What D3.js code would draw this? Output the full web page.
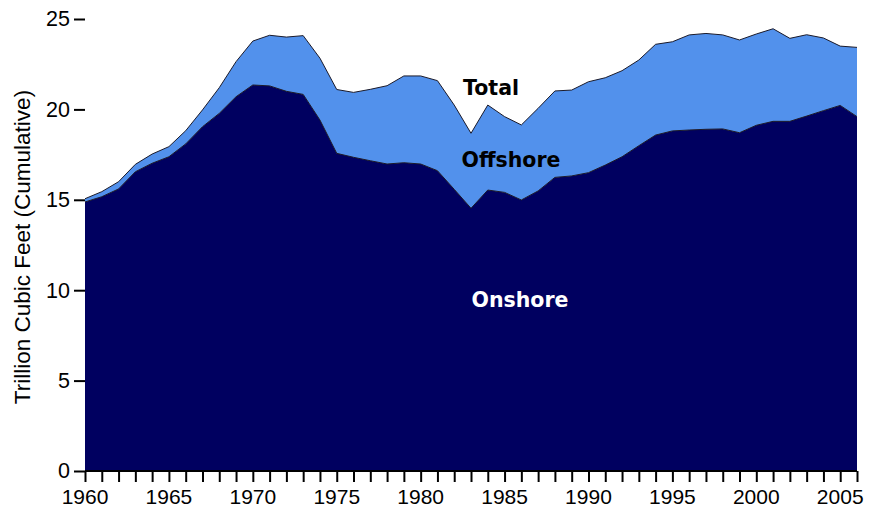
<!DOCTYPE html>
<html>
<head>
<meta charset="utf-8">
<script src="https://cdn.jsdelivr.net/npm/d3@7"></script>
<style>
html,body{margin:0;padding:0;background:#fff;}
svg{display:block;}
</style>
</head>
<body>
<svg id="chart" width="869" height="509"></svg>
<script>
const years = d3.range(1960, 2007);
const onshore = [14.88,15.17,15.6,16.55,17.02,17.38,18.09,19.04,19.78,20.7,
  21.35,21.3,21.0,20.83,19.41,17.57,17.35,17.16,16.98,17.05,
  16.98,16.61,15.58,14.53,15.54,15.41,14.99,15.49,16.24,16.32,
  16.5,16.92,17.38,17.99,18.58,18.81,18.86,18.9,18.92,18.71,
  19.12,19.34,19.34,19.63,19.93,20.22,19.6];
const offshore = [0.18,0.28,0.4,0.41,0.51,0.56,0.73,0.93,1.42,1.94,
  2.43,2.8,3.0,3.25,3.42,3.53,3.59,3.95,4.33,4.8,
  4.87,4.98,4.66,4.15,4.7,4.19,4.15,4.57,4.78,4.75,
  5.03,4.83,4.76,4.74,5.02,4.93,5.26,5.3,5.2,5.13,
  5.05,5.12,4.59,4.5,4.02,3.28,3.83];
const seriesNames = ["Onshore","Offshore"];
const yTicks = [0,5,10,15,20,25];
const xTickLabels = [1960,1965,1970,1975,1980,1985,1990,1995,2000,2005];
const yLabel = "Trillion Cubic Feet (Cumulative)";

const rows = years.map((yr,i)=>({year:yr, Onshore:onshore[i], Offshore:offshore[i]}));
const stacked = d3.stack().keys(seriesNames)(rows);

const svg = d3.select("#chart");
const x = d3.scaleLinear().domain([1960,2006]).range([85,857]);
const y = d3.scaleLinear().domain([0,25]).range([471,19]);
const colors = {Onshore:"#000060", Offshore:"#5291ec"};

const area = d3.area().x(d=>x(d.data.year)).y0(d=>y(d[0])).y1(d=>y(d[1]));
const topLine = d3.line().x(d=>x(d.data.year)).y(d=>y(d[1]));

svg.selectAll("path.area").data(stacked.slice().reverse()).join("path")
  .attr("class","area")
  .attr("d", area)
  .attr("fill", d=>colors[d.key]);

svg.selectAll("path.edge").data(stacked).join("path")
  .attr("class","edge")
  .attr("d", topLine)
  .attr("fill","none")
  .attr("stroke","#1a1a2a")
  .attr("stroke-width",1);

// x axis
const xAxis = d3.axisBottom(x).tickValues(years).tickSize(11).tickFormat("");
const gx = svg.append("g").attr("transform","translate(0,471)").call(xAxis);
gx.select(".domain").attr("d","M85,0H857").attr("stroke","#000").attr("stroke-width",2);
gx.selectAll(".tick line").attr("stroke","#000").attr("stroke-width",2);
svg.append("g").selectAll("text").data(xTickLabels).join("text")
  .attr("x", d=>x(d)).attr("y", 504)
  .attr("text-anchor","middle")
  .attr("font-family","Liberation Sans, Arial, sans-serif")
  .attr("font-size",21).attr("fill","#000")
  .text(d=>d);

// y axis
const yAxis = d3.axisLeft(y).tickValues(yTicks).tickSize(11).tickPadding(4);
const gy = svg.append("g").attr("transform","translate(85,0)").call(yAxis);
gy.select(".domain").remove();
gy.selectAll(".tick line").attr("stroke","#000").attr("stroke-width",2);
gy.selectAll(".tick text").attr("font-family","Liberation Sans, Arial, sans-serif")
  .attr("font-size",21.5).attr("fill","#000");

svg.append("text")
  .attr("transform","translate(30,247) rotate(-90)")
  .attr("text-anchor","middle")
  .attr("font-family","Liberation Sans, Arial, sans-serif")
  .attr("font-size",22.5).attr("fill","#000")
  .text(yLabel);

// series labels
const labelFont = "DejaVu Sans, Verdana, sans-serif";
svg.append("text").attr("x",491).attr("y",95).attr("text-anchor","middle")
  .attr("font-family",labelFont).attr("font-weight","bold").attr("font-size",20.5)
  .attr("fill","#000").text("Total");
svg.append("text").attr("x",511).attr("y",167).attr("text-anchor","middle")
  .attr("font-family",labelFont).attr("font-weight","bold").attr("font-size",20.5)
  .attr("fill","#000").text("Offshore");
svg.append("text").attr("x",520).attr("y",307).attr("text-anchor","middle")
  .attr("font-family",labelFont).attr("font-weight","bold").attr("font-size",20.5)
  .attr("fill","#fff").text("Onshore");
</script>
</body>
</html>
